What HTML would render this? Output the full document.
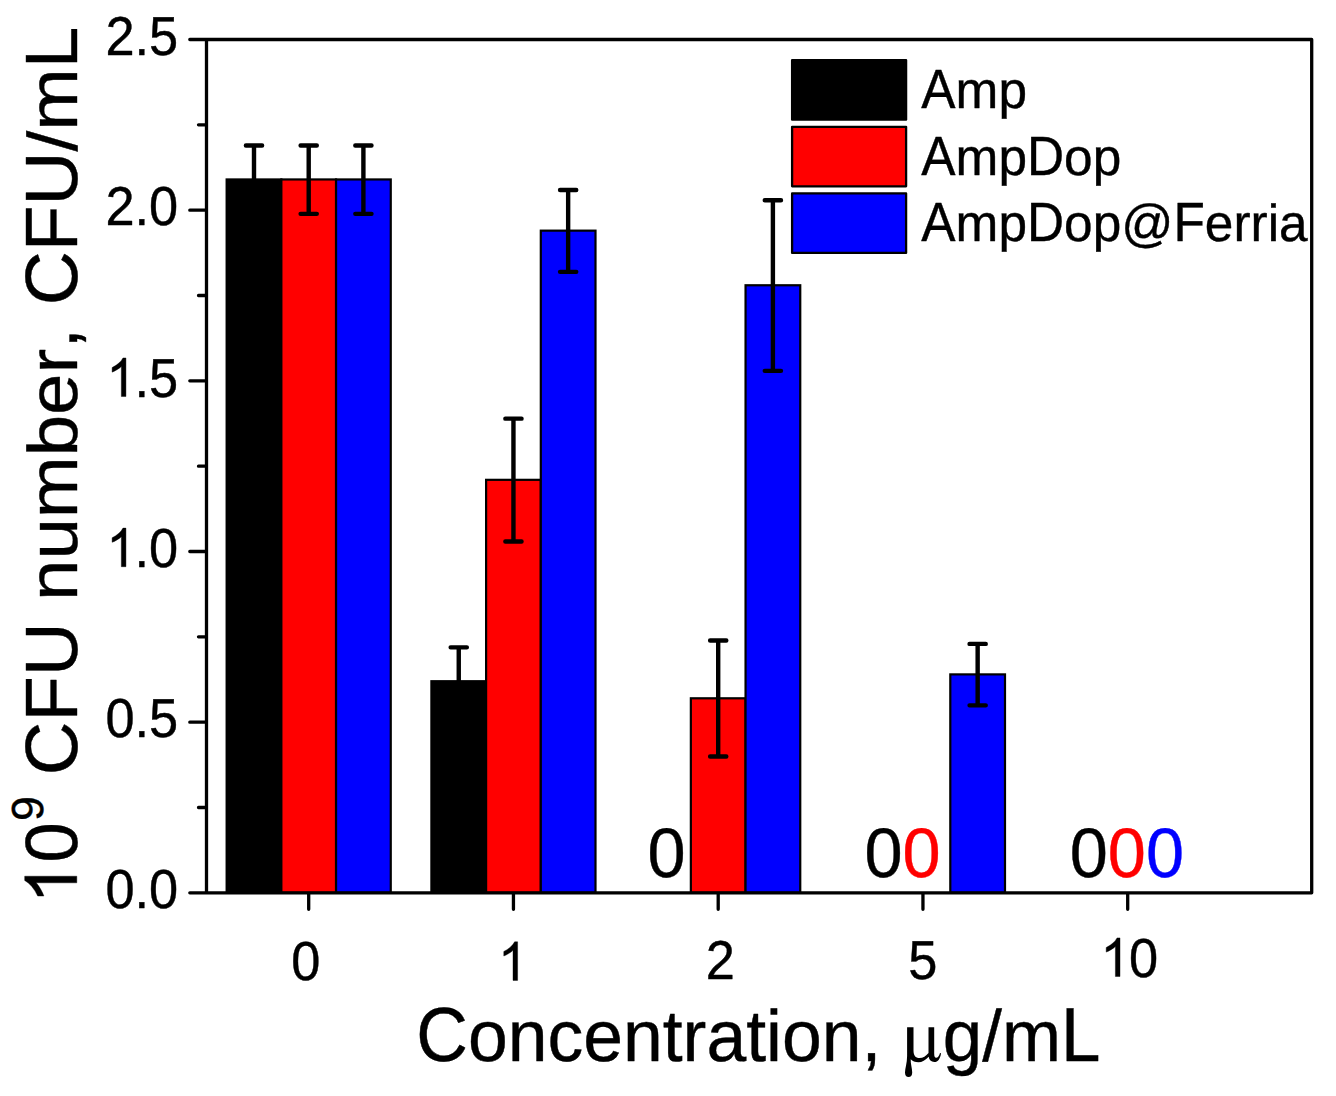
<!DOCTYPE html>
<html><head><meta charset="utf-8"><title>CFU chart</title>
<style>html,body{margin:0;padding:0;background:#fff}body{width:1336px;height:1096px;overflow:hidden;font-family:"Liberation Sans",sans-serif}</style></head>
<body>
<svg width="1336" height="1096" viewBox="0 0 1336 1096" style="display:block">
<rect width="1336" height="1096" fill="#ffffff"/>
<g stroke="#000" stroke-width="2.2" stroke-linejoin="miter">
<rect x="226.65" y="179.45" width="54.7" height="713.40" fill="#000000"/>
<rect x="281.35" y="179.45" width="54.7" height="713.40" fill="#ff0000"/>
<rect x="336.05" y="179.45" width="54.7" height="713.40" fill="#0000ff"/>
<rect x="431.40" y="681.22" width="54.7" height="211.63" fill="#000000"/>
<rect x="486.10" y="479.83" width="54.7" height="413.02" fill="#ff0000"/>
<rect x="540.80" y="230.65" width="54.7" height="662.20" fill="#0000ff"/>
<rect x="690.85" y="698.29" width="54.7" height="194.56" fill="#ff0000"/>
<rect x="745.55" y="285.26" width="54.7" height="607.59" fill="#0000ff"/>
<rect x="950.30" y="674.39" width="54.7" height="218.46" fill="#0000ff"/>
</g>
<g stroke="#000" stroke-width="4.4" stroke-linecap="round" fill="none">
<path d="M254.00 145.57V179.45M245.90 145.57H262.10"/>
<path d="M308.70 145.57V213.83M300.60 145.57H316.80M300.60 213.83H316.80"/>
<path d="M363.40 145.57V213.83M355.30 145.57H371.50M355.30 213.83H371.50"/>
<path d="M458.75 647.34V681.22M450.65 647.34H466.85"/>
<path d="M513.45 418.64V541.52M505.35 418.64H521.55M505.35 541.52H521.55"/>
<path d="M568.15 189.94V271.86M560.05 189.94H576.25M560.05 271.86H576.25"/>
<path d="M718.20 640.51V756.56M710.10 640.51H726.30M710.10 756.56H726.30"/>
<path d="M772.90 200.18V370.85M764.80 200.18H781.00M764.80 370.85H781.00"/>
<path d="M977.65 643.92V705.36M969.55 643.92H985.75M969.55 705.36H985.75"/>
</g>
<g stroke="#000" stroke-width="3.3" stroke-linecap="round" stroke-linejoin="round" fill="none">
<path d="M206.5 39.5H1311.7V892.85H206.5ZM206.5 892.85h-16.7M206.5 722.18h-16.7M206.5 551.51h-16.7M206.5 380.84h-16.7M206.5 210.17h-16.7M206.5 39.50h-16.7M206.5 807.51h-8.0M206.5 636.85h-8.0M206.5 466.17h-8.0M206.5 295.50h-8.0M206.5 124.83h-8.0M308.70 892.85v16.5M513.45 892.85v16.5M718.20 892.85v16.5M922.95 892.85v16.5M1127.70 892.85v16.5"/>
</g>
<g font-family="'Liberation Sans', sans-serif" text-rendering="geometricPrecision" style="font-kerning:none" stroke-linejoin="round">
<text transform="translate(105.43 908.05) scale(0.5235 0.5480)" font-size="100" fill="#000" stroke="#000" stroke-width="0.75">0.0</text>
<text transform="translate(105.43 737.38) scale(0.5235 0.5480)" font-size="100" fill="#000" stroke="#000" stroke-width="0.75">0.5</text>
<path transform="translate(106.43 566.71) scale(0.025562 -0.026221)" d="M763 0H583V1147Q518 1085 412.5 1023T223 930V1104Q374 1175 487 1276T647 1472H763Z" fill="#000" stroke="#000" stroke-width="15.4"/>
<text transform="translate(134.54 566.71) scale(0.5235 0.5480)" font-size="100" fill="#000" stroke="#000" stroke-width="0.75">.0</text>
<path transform="translate(106.43 396.54) scale(0.025562 -0.026221)" d="M763 0H583V1147Q518 1085 412.5 1023T223 930V1104Q374 1175 487 1276T647 1472H763Z" fill="#000" stroke="#000" stroke-width="15.4"/>
<text transform="translate(134.54 396.54) scale(0.5235 0.5480)" font-size="100" fill="#000" stroke="#000" stroke-width="0.75">.5</text>
<text transform="translate(105.43 225.37) scale(0.5235 0.5480)" font-size="100" fill="#000" stroke="#000" stroke-width="0.75">2.0</text>
<text transform="translate(105.43 54.70) scale(0.5235 0.5480)" font-size="100" fill="#000" stroke="#000" stroke-width="0.75">2.5</text>
<text transform="translate(291.14 980.00) scale(0.5235 0.5480)" font-size="100" fill="#000" stroke="#000" stroke-width="0.75">0</text>
<text transform="translate(705.84 978.80) scale(0.5235 0.5480)" font-size="100" fill="#000" stroke="#000" stroke-width="0.75">2</text>
<text transform="translate(908.15 978.90) scale(0.5235 0.5480)" font-size="100" fill="#000" stroke="#000" stroke-width="0.75">5</text>
<path transform="translate(498.10 980.40) scale(0.025562 -0.026221)" d="M763 0H583V1147Q518 1085 412.5 1023T223 930V1104Q374 1175 487 1276T647 1472H763Z" fill="#000" stroke="#000" stroke-width="15.4"/>
<path transform="translate(1100.50 976.50) scale(0.025562 -0.026221)" d="M763 0H583V1147Q518 1085 412.5 1023T223 930V1104Q374 1175 487 1276T647 1472H763Z" fill="#000" stroke="#000" stroke-width="15.4"/>
<text transform="translate(1129.00 976.50) scale(0.5235 0.5480)" font-size="100" fill="#000" stroke="#000" stroke-width="0.75">0</text>
<text transform="translate(647.50 877.00) scale(0.6850 0.7000)" font-size="100" fill="#000000" stroke="#000000" stroke-width="0.58">0</text>
<text transform="translate(864.40 877.00) scale(0.6850 0.7000)" font-size="100" fill="#000000" stroke="#000000" stroke-width="0.58">0</text>
<text transform="translate(902.50 877.00) scale(0.6850 0.7000)" font-size="100" fill="#ff0000" stroke="#ff0000" stroke-width="0.58">0</text>
<text transform="translate(1069.70 877.00) scale(0.6850 0.7000)" font-size="100" fill="#000000" stroke="#000000" stroke-width="0.58">0</text>
<text transform="translate(1107.80 877.00) scale(0.6850 0.7000)" font-size="100" fill="#ff0000" stroke="#ff0000" stroke-width="0.58">0</text>
<text transform="translate(1145.89 877.00) scale(0.6850 0.7000)" font-size="100" fill="#0000ff" stroke="#0000ff" stroke-width="0.58">0</text>
<text transform="translate(921.30 108.10) scale(0.5140 0.5526)" font-size="100" fill="#000" stroke="#000" stroke-width="0.75">A</text>
<text transform="translate(955.58 108.10) scale(0.5140 0.5220)" font-size="100" fill="#000" stroke="#000" stroke-width="0.77">mp</text>
<text transform="translate(921.30 175.00) scale(0.5140 0.5526)" font-size="100" fill="#000" stroke="#000" stroke-width="0.75">A</text>
<text transform="translate(955.58 175.00) scale(0.5140 0.5220)" font-size="100" fill="#000" stroke="#000" stroke-width="0.77">mp</text>
<text transform="translate(1026.99 175.00) scale(0.5140 0.5526)" font-size="100" fill="#000" stroke="#000" stroke-width="0.75">D</text>
<text transform="translate(1064.11 175.00) scale(0.5140 0.5220)" font-size="100" fill="#000" stroke="#000" stroke-width="0.77">op</text>
<text transform="translate(921.30 240.80) scale(0.5140 0.5526)" font-size="100" fill="#000" stroke="#000" stroke-width="0.75">A</text>
<text transform="translate(955.58 240.80) scale(0.5140 0.5220)" font-size="100" fill="#000" stroke="#000" stroke-width="0.77">mp</text>
<text transform="translate(1026.99 240.80) scale(0.5140 0.5526)" font-size="100" fill="#000" stroke="#000" stroke-width="0.75">D</text>
<text transform="translate(1064.11 240.80) scale(0.5140 0.5220)" font-size="100" fill="#000" stroke="#000" stroke-width="0.77">op@</text>
<text transform="translate(1173.46 240.80) scale(0.5140 0.5526)" font-size="100" fill="#000" stroke="#000" stroke-width="0.75">F</text>
<text transform="translate(1204.85 240.80) scale(0.5140 0.5220)" font-size="100" fill="#000" stroke="#000" stroke-width="0.77">erria</text>
<text transform="translate(416.27 1060.60) scale(0.7150 0.7690)" font-size="100" fill="#000" stroke="#000" stroke-width="0.54">C</text>
<text transform="translate(467.91 1060.60) scale(0.7150 0.7264)" font-size="100" fill="#000" stroke="#000" stroke-width="0.56">oncentration,</text>
<text transform="translate(942.82 1060.60) scale(0.7086 0.7264)" font-size="100" fill="#000" stroke="#000" stroke-width="0.56">g/m</text>
<text transform="translate(1060.94 1060.60) scale(0.7086 0.7690)" font-size="100" fill="#000" stroke="#000" stroke-width="0.54">L</text>
<path d="M907.1 1027.3H913.5V1050.5C913.5 1055.5 915.5 1058 919.5 1058C923 1058 926 1056 928.5 1053V1027.3H934.2V1053.5C934.2 1056.5 934.8 1057.8 936.2 1057.8C937.8 1057.8 939.2 1056 940 1052.9L941 1053.2C940.4 1058.5 938 1062 934.3 1062C931 1062 929.2 1060 928.7 1056.8C925.5 1060.3 922 1062.3 918.5 1062.3C915 1062.3 912.5 1061 910.7 1059.3C910.5 1064 912.2 1068.5 912.2 1072.5C912.2 1075.5 910.8 1077 908.6 1077C906.4 1077 905 1075.5 905 1072.5C905 1068.5 907.1 1063 907.1 1056Z" fill="#000"/>
<path transform="translate(76.80 904.17) rotate(-90) scale(0.036621 -0.035400)" d="M763 0H583V1147Q518 1085 412.5 1023T223 930V1104Q374 1175 487 1276T647 1472H763Z" fill="#000" stroke="#000" stroke-width="11.1"/>
<text transform="translate(76.80 862.53) rotate(-90) scale(0.7238 0.7410)" font-size="100" fill="#000" stroke="#000" stroke-width="0.55">0</text>
<text transform="translate(42.70 820.89) rotate(-90) scale(0.4460 0.4483)" font-size="100" fill="#000" stroke="#000" stroke-width="0.89">9</text>
<text transform="translate(76.80 775.18) rotate(-90) scale(0.7435 0.7410)" font-size="100" fill="#000" stroke="#000" stroke-width="0.54">CFU</text>
<text transform="translate(76.80 600.94) rotate(-90) scale(0.7437 0.7000)" font-size="100" fill="#000" stroke="#000" stroke-width="0.55">number,</text>
<text transform="translate(76.80 305.30) rotate(-90) scale(0.7487 0.7410)" font-size="100" fill="#000" stroke="#000" stroke-width="0.54">CFU</text>
<text transform="translate(76.80 151.43) rotate(-90) scale(0.7487 0.7000)" font-size="100" fill="#000" stroke="#000" stroke-width="0.55">/m</text>
<text transform="translate(76.80 68.25) rotate(-90) scale(0.7487 0.7410)" font-size="100" fill="#000" stroke="#000" stroke-width="0.54">L</text>
</g>
<g stroke="#000" stroke-width="2.3" stroke-linejoin="round">
<rect x="792.1" y="60.15" width="114" height="59.5" fill="#000000"/>
<rect x="792.1" y="126.80" width="114" height="59.5" fill="#ff0000"/>
<rect x="792.1" y="193.45" width="114" height="59.5" fill="#0000ff"/>
</g>
</svg>
</body></html>
